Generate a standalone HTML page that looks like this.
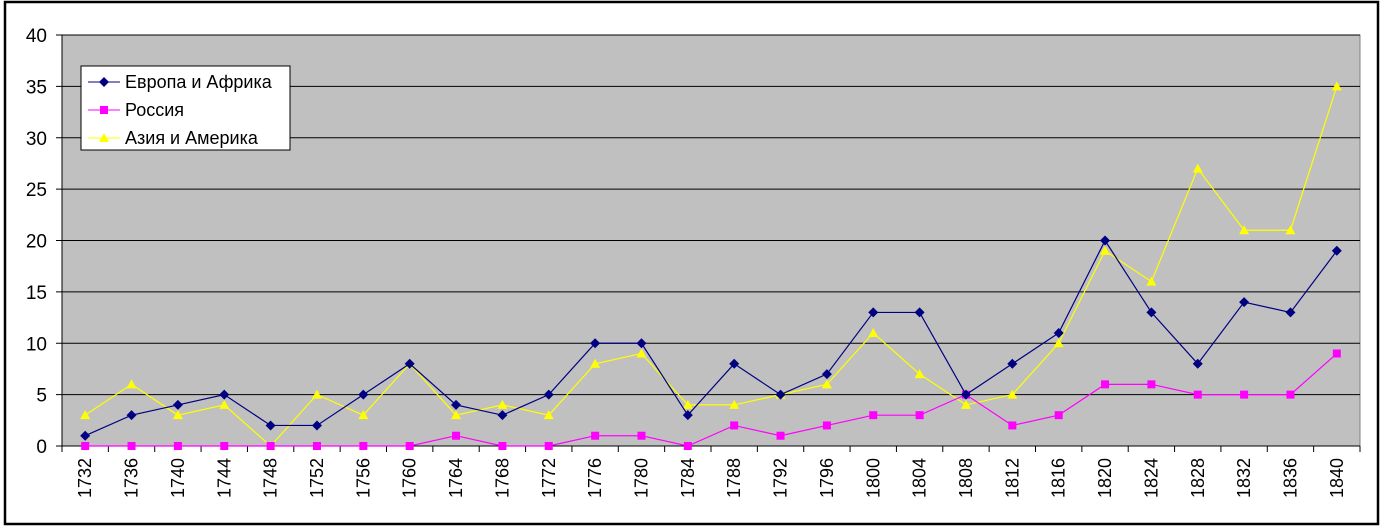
<!DOCTYPE html>
<html><head><meta charset="utf-8"><style>
body{margin:0;background:#fff;}
svg{display:block;font-family:"Liberation Sans","DejaVu Sans",sans-serif;}
</style></head><body>
<svg id="chart" width="1382" height="530">
<rect x="0" y="0" width="1382" height="530" fill="#fff"/>
<rect x="5" y="2" width="1373" height="522" fill="#fff" stroke="#000" stroke-width="2.5"/>
<rect x="62" y="35" width="1298" height="411" fill="#c0c0c0" stroke="#808080"/>
<g id="grid"></g><g id="axes"></g><g id="series"></g>
<g>
<rect x="81" y="66" width="209" height="84" fill="#fff" stroke="#000"/>
<g>
<line x1="88" y1="82" x2="120" y2="82" stroke="#000080"/><path d="M104 77 L109 82 L104 87 L99 82 Z" fill="#000080"/>
<text x="125" y="88" font-size="18">Европа и Африка</text></g>
<g>
<line x1="88" y1="110" x2="120" y2="110" stroke="#ff00ff"/><rect x="100" y="106" width="8" height="8" fill="#ff00ff"/>
<text x="125" y="116" font-size="18">Россия</text></g>
<g>
<line x1="88" y1="138" x2="120" y2="138" stroke="#ffff00"/><path d="M104 133 L109 142 L99 142 Z" fill="#ffff00"/>
<text x="125" y="144" font-size="18">Азия и Америка</text></g>
</g>
</svg>
<script>
const years=[1732,1736,1740,1744,1748,1752,1756,1760,1764,1768,1772,1776,1780,1784,1788,1792,1796,1800,1804,1808,1812,1816,1820,1824,1828,1832,1836,1840];
const europe=[1,3,4,5,2,2,5,8,4,3,5,10,10,3,8,5,7,13,13,5,8,11,20,13,8,14,13,19];
const russia=[0,0,0,0,0,0,0,0,1,0,0,1,1,0,2,1,2,3,3,5,2,3,6,6,5,5,5,9];
const asia=[3,6,3,4,0,5,3,8,3,4,3,8,9,4,4,5,6,11,7,4,5,10,19,16,27,21,21,35];
const yTicks=[0,5,10,15,20,25,30,35,40];
const NS="http://www.w3.org/2000/svg";
const L=62,R=1360,T=35,B=446,YMAX=40;
const bw=(R-L)/years.length;
const X=i=>L+bw*(i+0.5);
const Y=v=>B-(B-T)*v/YMAX;
function mk(tag,attrs,parent){const e=document.createElementNS(NS,tag);for(const k in attrs)e.setAttribute(k,attrs[k]);parent.appendChild(e);return e;}
const grid=document.getElementById('grid'),axes=document.getElementById('axes'),ser=document.getElementById('series');
yTicks.forEach(v=>{
 if(v>0){const g=mk('line',{x1:L,x2:R,y1:Y(v),y2:Y(v),stroke:'#000'},grid);
 
 }
 mk('line',{x1:L-6,x2:L,y1:Y(v),y2:Y(v),stroke:'#000'},axes);
 const t=mk('text',{x:L-15,y:Y(v)+7,'text-anchor':'end','font-size':19},axes);t.textContent=v;
 
 
});
mk('line',{x1:L,x2:L,y1:T,y2:B,stroke:'#000'},axes);
mk('line',{x1:L,x2:R,y1:B,y2:B,stroke:'#000'},axes);
for(let i=0;i<=years.length;i++)mk('line',{x1:L+bw*i,x2:L+bw*i,y1:B,y2:B+6,stroke:'#000'},axes);
years.forEach((yr,i)=>{
 const t=mk('text',{x:0,y:0,'font-size':18,'text-anchor':'end',transform:`translate(${X(i)+6},${B+12}) rotate(-90)`},axes);t.textContent=yr;
 
 
});
function series(data,color,shape,name){
 const g=mk('g',{},ser);
 
 
 mk('polyline',{points:data.map((v,i)=>X(i)+','+Y(v)).join(' '),fill:'none',stroke:color,'stroke-width':1.2},g);
 data.forEach((v,i)=>{const x=X(i),y=Y(v);let m;
  if(shape==='d')m=mk('path',{d:`M${x} ${y-5}L${x+5} ${y}L${x} ${y+5}L${x-5} ${y}Z`,fill:color},g);
  else if(shape==='s')m=mk('rect',{x:x-4,y:y-4,width:8,height:8,fill:color},g);
  else m=mk('path',{d:`M${x} ${y-5}L${x+5} ${y+4}L${x-5} ${y+4}Z`,fill:color},g);
  
  
 });
}
series(asia,'#ffff00','t','series-asia-america');
series(russia,'#ff00ff','s','series-russia');
series(europe,'#000080','d','series-europe-africa');
</script>
</body></html>
